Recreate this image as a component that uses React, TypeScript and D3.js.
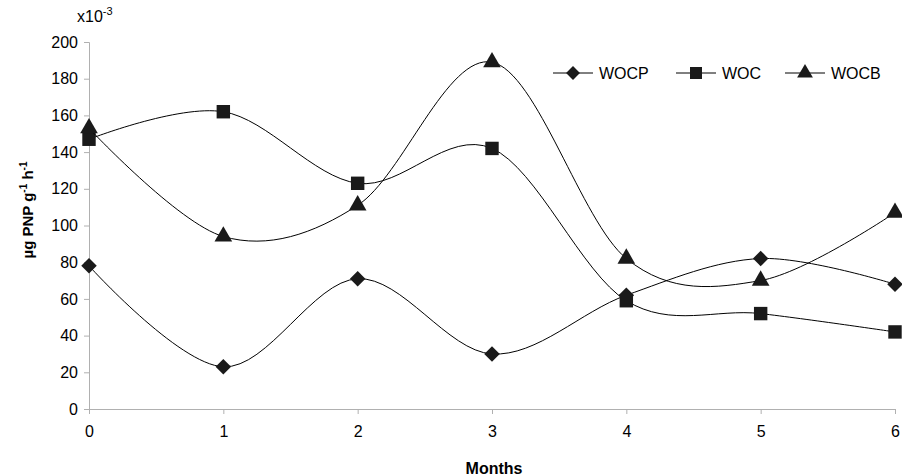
import React, { useEffect, useRef } from 'react';
import * as d3 from 'd3';

const months = [0, 1, 2, 3, 4, 5, 6];
const wocp = [78, 23, 71, 30, 62, 82, 68];
const woc = [147, 162, 123, 142, 59, 52, 42];
const wocb = [153, 94, 111, 189, 82, 70, 107];
const yTicks = [0, 20, 40, 60, 80, 100, 120, 140, 160, 180, 200];

const W = 902;
const H = 476;
const margin = { left: 89, right: 6, top: 42, bottom: 67 };
const font = '"Liberation Sans", Arial, sans-serif';

// square diamond (rotated square), d3's symbolDiamond is too narrow
const squareDiamond = {
  draw(ctx: any, size: number) {
    const r = Math.sqrt(size / 2);
    ctx.moveTo(0, -r);
    ctx.lineTo(r, 0);
    ctx.lineTo(0, r);
    ctx.lineTo(-r, 0);
    ctx.closePath();
  },
};

const App = () => {
  const svgRef = useRef<SVGSVGElement>(null);

  useEffect(() => {
    const svg = d3.select(svgRef.current);
    svg.selectAll('*').remove();

    const x = d3.scaleLinear().domain([0, 6]).range([margin.left, W - margin.right - 1]);
    const y = d3.scaleLinear().domain([0, 200]).range([H - margin.bottom, margin.top]);

    // axes
    const yAxis = svg.append('g')
      .attr('transform', `translate(${margin.left},0)`)
      .call(d3.axisLeft(y).tickValues(yTicks).tickSize(5).tickPadding(6));
    const xAxis = svg.append('g')
      .attr('transform', `translate(0,${H - margin.bottom})`)
      .call(d3.axisBottom(x).tickValues(months).tickSize(5).tickPadding(12).tickFormat(d3.format('d')));
    [yAxis, xAxis].forEach(a => {
      a.select('.domain').attr('stroke', '#b0b0b0');
      a.selectAll('.tick line').attr('stroke', '#b0b0b0');
      a.selectAll('.tick text')
        .attr('fill', '#000')
        .style('font-family', font)
        .style('font-size', '16px');
    });

    svg.append('text')
      .attr('x', 77).attr('y', 22)
      .style('font-family', font).style('font-size', '16px')
      .text('x10')
      .append('tspan').attr('dy', -7).style('font-size', '11px').text('-3');

    const yl = svg.append('text')
      .attr('transform', `translate(33,210) rotate(-90)`)
      .attr('text-anchor', 'middle')
      .style('font-family', font).style('font-size', '15px').style('font-weight', 'bold');
    yl.append('tspan').text('µg PNP g');
    yl.append('tspan').attr('dy', -6).style('font-size', '10px').text('-1');
    yl.append('tspan').attr('dy', 6).text(' h');
    yl.append('tspan').attr('dy', -6).style('font-size', '10px').text('-1');

    svg.append('text')
      .attr('x', 494).attr('y', 474)
      .attr('text-anchor', 'middle')
      .style('font-family', font).style('font-size', '16px').style('font-weight', 'bold')
      .text('Months');

    const line = d3.line<number>()
      .x((d, i) => x(months[i]))
      .y(d => y(d))
      .curve(d3.curveCardinal.tension(0));

    const series = [
      { name: 'WOCP', values: wocp, shape: squareDiamond, size: 120 },
      { name: 'WOC', values: woc, shape: d3.symbolSquare, size: 180 },
      { name: 'WOCB', values: wocb, shape: d3.symbolTriangle, size: 135 },
    ];

    series.forEach(s => {
      svg.append('path')
        .attr('d', line(s.values))
        .attr('fill', 'none')
        .attr('stroke', '#000')
        .attr('stroke-width', 1);
      svg.selectAll(null)
        .data(s.values)
        .enter()
        .append('path')
        .attr('d', d3.symbol(s.shape, s.size)())
        .attr('transform', (d, i) => `translate(${x(months[i])},${y(d)})`)
        .attr('fill', '#1a1a1a');
    });

    // legend
    const legendX = [553, 676, 785];
    series.forEach((s, i) => {
      const g = svg.append('g').attr('transform', `translate(${legendX[i]},73)`);
      g.append('line').attr('x1', 0).attr('x2', 40).attr('stroke', '#000');
      g.append('path')
        .attr('d', d3.symbol(s.shape, s.size * 0.8)())
        .attr('transform', 'translate(20,0)')
        .attr('fill', '#1a1a1a');
      g.append('text')
        .attr('x', 46).attr('y', 6)
        .style('font-family', font).style('font-size', '16px')
        .text(s.name);
    });
  }, []);

  return (
    <svg ref={svgRef} width={W} height={H}
      style={{ position: 'absolute', left: 0, top: 0, background: '#fff' }} />
  );
};

export default App;
